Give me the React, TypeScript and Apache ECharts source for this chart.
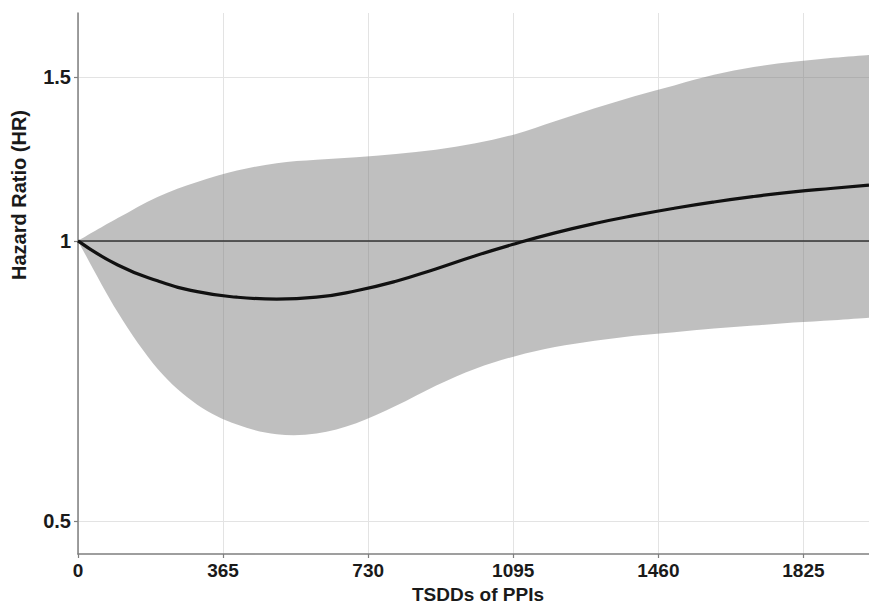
import React, { useEffect, useRef } from "react";
import * as echarts from "echarts";

const days = [0, 100, 200, 300, 400, 500, 600, 700, 800, 900, 1000, 1100, 1200, 1300, 1400, 1500, 1600, 1700, 1800, 1900, 1990];
const hrMean = [1.0, 0.942, 0.906, 0.882, 0.87, 0.866, 0.87, 0.884, 0.905, 0.933, 0.964, 0.993, 1.02, 1.044, 1.065, 1.084, 1.101, 1.116, 1.129, 1.139, 1.148];
const hrUpper = [1.0, 1.058, 1.115, 1.157, 1.19, 1.212, 1.222, 1.23, 1.24, 1.253, 1.273, 1.302, 1.344, 1.388, 1.43, 1.469, 1.508, 1.537, 1.557, 1.573, 1.584];
const hrLower = [1.0, 0.838, 0.729, 0.667, 0.635, 0.62, 0.621, 0.637, 0.665, 0.699, 0.729, 0.752, 0.769, 0.781, 0.791, 0.798, 0.805, 0.811, 0.817, 0.822, 0.827];
const xTicks = [0, 365, 730, 1095, 1460, 1825];
const yTicks = [0.5, 1, 1.5];
const xTitle = "TSDDs of PPIs";
const yTitle = "Hazard Ratio (HR)";

const FONT = "'Liberation Sans', Arial, sans-serif";

// Catmull-Rom spline through pixel points (cubic Bezier segments)
function splineSegments(pts: number[][]): string {
  let d = "";
  const n = pts.length;
  for (let i = 0; i < n - 1; i++) {
    const p0 = pts[Math.max(0, i - 1)];
    const p1 = pts[i];
    const p2 = pts[i + 1];
    const p3 = pts[Math.min(n - 1, i + 2)];
    const c1x = p1[0] + (p2[0] - p0[0]) / 6;
    const c1y = p1[1] + (p2[1] - p0[1]) / 6;
    const c2x = p2[0] - (p3[0] - p1[0]) / 6;
    const c2y = p2[1] - (p3[1] - p1[1]) / 6;
    d += ` C ${c1x} ${c1y} ${c2x} ${c2y} ${p2[0]} ${p2[1]}`;
  }
  return d;
}

export default function App() {
  const ref = useRef<HTMLDivElement>(null);
  useEffect(() => {
    if (!ref.current) return;
    const chart = echarts.init(ref.current, null, { renderer: "svg" });
    const bandData = days.map((d, i) => [d, hrLower[i], hrUpper[i]]);
    const meanData = days.map((d, i) => [d, hrMean[i]]);
    chart.setOption({
      animation: false,
      backgroundColor: "#ffffff",
      grid: { left: 78, top: 13, right: 0, bottom: 51, containLabel: false, outerBoundsMode: "none" },
      xAxis: {
        type: "value",
        min: 0,
        max: 1990,
        interval: 365,
        axisLine: { show: true, lineStyle: { color: "#7f7f7f", width: 1.5 } },
        axisTick: { show: true, length: 4, customValues: xTicks, lineStyle: { color: "#7f7f7f", width: 1.2 } },
        axisLabel: {
          customValues: xTicks,
          margin: 7,
          fontFamily: FONT,
          fontWeight: "bold",
          fontSize: 19,
          color: "#1a1a1a",
          formatter: (v: number) => String(v),
        },
        splitLine: { show: true, lineStyle: { color: "#e3e3e3", width: 1 } },
      },
      yAxis: {
        type: "log",
        logBase: 10,
        min: 0.461,
        max: 1.757,
        axisLine: { show: true, lineStyle: { color: "#7f7f7f", width: 1.5 } },
        axisTick: { show: true, length: 4, customValues: yTicks, lineStyle: { color: "#7f7f7f", width: 1.2 } },
        axisLabel: {
          customValues: yTicks,
          margin: 7,
          fontFamily: FONT,
          fontWeight: "bold",
          fontSize: 20,
          color: "#1a1a1a",
          formatter: (v: number) => String(Math.round(v * 10) / 10),
        },
        splitLine: { show: true, lineStyle: { color: "#e3e3e3", width: 1 } },
      },
      graphic: [
        {
          type: "text",
          x: 19,
          y: 195,
          rotation: Math.PI / 2,
          style: {
            text: yTitle,
            fontFamily: FONT,
            fontWeight: "bold",
            fontSize: 20,
            fill: "#1a1a1a",
            align: "center",
            verticalAlign: "middle",
          },
        },
        {
          type: "text",
          x: 478,
          y: 594,
          style: {
            text: xTitle,
            fontFamily: FONT,
            fontWeight: "bold",
            fontSize: 19,
            fill: "#1a1a1a",
            align: "center",
            verticalAlign: "middle",
          },
        },
      ],
      series: [
        {
          type: "custom",
          data: bandData,
          encode: { x: 0, y: [1, 2] },
          silent: true,
          z: 1,
          renderItem: (params: any, api: any) => {
            if (params.dataIndex !== 0) return null;
            const up: number[][] = days.map((d, j) => api.coord([d, hrUpper[j]]));
            const lo: number[][] = days.map((d, j) => api.coord([d, hrLower[j]])).reverse();
            let path = `M ${up[0][0]} ${up[0][1]}` + splineSegments(up);
            path += ` L ${lo[0][0]} ${lo[0][1]}` + splineSegments(lo) + " Z";
            const cs = params.coordSys;
            return {
              type: "path",
              shape: { pathData: path },
              style: { fill: "rgba(120,120,120,0.47)", stroke: "none" },
              clipPath: { type: "rect", shape: { x: cs.x, y: cs.y, width: cs.width, height: cs.height } },
            };
          },
        },
        {
          type: "line",
          data: meanData,
          symbol: "none",
          smooth: 0.5,
          lineStyle: { color: "#111111", width: 3.2 },
          silent: true,
          z: 5,
          markLine: {
            silent: true,
            symbol: "none",
            label: { show: false },
            lineStyle: { color: "#333333", width: 1.5, type: "solid" },
            data: [{ yAxis: 1 }],
          },
        },
      ],
    });
    return () => chart.dispose();
  }, []);
  return (
    <div
      ref={ref}
      style={{ position: "absolute", left: 0, top: 0, width: 869, height: 605 }}
    />
  );
}
